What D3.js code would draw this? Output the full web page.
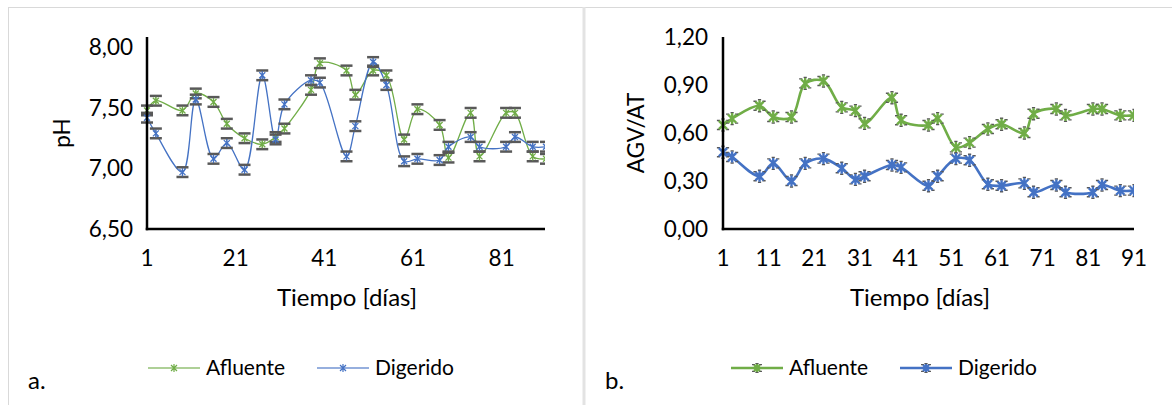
<!DOCTYPE html>
<html>
<head>
<meta charset="utf-8">
<script src="https://cdn.jsdelivr.net/npm/d3@7"></script>
<style>
  body { margin: 0; background: #fff; }
  svg text { font-family: Lato, "Noto Sans", sans-serif; fill: #000; }
</style>
</head>
<body>
<svg id="chart" width="1172" height="405"></svg>
<script>
// Days sampled (shared by both panels)
const days = [1, 3, 9, 12, 16, 19, 23, 27, 30, 32, 38, 40, 46, 48, 52, 55, 59, 62, 67, 69, 74, 76, 82, 84, 88, 91];

// panel a: pH
const phAfluente = [7.48, 7.56, 7.48, 7.62, 7.55, 7.37, 7.25, 7.20, 7.26, 7.33, 7.65, 7.87, 7.81, 7.61, 7.81, 7.77, 7.24, 7.49, 7.36, 7.09, 7.46, 7.10, 7.46, 7.46, 7.10, 7.08];
const phDigerido = [7.42, 7.29, 6.97, 7.57, 7.08, 7.21, 6.99, 7.77, 7.24, 7.53, 7.73, 7.71, 7.10, 7.35, 7.88, 7.69, 7.06, 7.08, 7.07, 7.18, 7.26, 7.18, 7.18, 7.26, 7.18, 7.18];
const phErrAfluente = [0.04, 0.04, 0.04, 0.04, 0.04, 0.04, 0.04, 0.04, 0.04, 0.04, 0.04, 0.04, 0.04, 0.04, 0.04, 0.04, 0.04, 0.04, 0.04, 0.04, 0.04, 0.04, 0.04, 0.04, 0.04, 0.04];
const phErrDigerido = [0.04, 0.04, 0.04, 0.04, 0.04, 0.04, 0.04, 0.04, 0.04, 0.04, 0.04, 0.04, 0.04, 0.04, 0.04, 0.04, 0.04, 0.04, 0.04, 0.04, 0.04, 0.04, 0.04, 0.04, 0.04, 0.04];
const phTicks = [6.5, 7.0, 7.5, 8.0];
const phDayTicks = [1, 21, 41, 61, 81];

// panel b: AGV/AT
const agvAfluente = [0.65, 0.69, 0.77, 0.70, 0.70, 0.91, 0.925, 0.76, 0.74, 0.66, 0.82, 0.68, 0.65, 0.69, 0.51, 0.54, 0.625, 0.655, 0.60, 0.72, 0.75, 0.71, 0.75, 0.75, 0.71, 0.71];
const agvDigerido = [0.48, 0.45, 0.33, 0.41, 0.30, 0.41, 0.44, 0.38, 0.31, 0.33, 0.40, 0.385, 0.27, 0.33, 0.44, 0.43, 0.28, 0.27, 0.285, 0.23, 0.275, 0.23, 0.23, 0.275, 0.24, 0.24];
const agvTicks = [0, 0.3, 0.6, 0.9, 1.2];
const agvDayTicks = [1, 11, 21, 31, 41, 51, 61, 71, 81, 91];

const seriesNames = ["Afluente", "Digerido"];
const colors = ["#70ad47", "#4472c4"];
const comma = d3.format(".2f");
const fmt = v => comma(v).replace(".", ",");

const svg = d3.select("#chart");

// frame
svg.append("line").attr("x1", 8).attr("x2", 1172).attr("y1", 7.5).attr("y2", 7.5).attr("stroke", "#d9d9d9");
svg.append("line").attr("x1", 8.5).attr("x2", 8.5).attr("y1", 7).attr("y2", 405).attr("stroke", "#d9d9d9");
svg.append("line").attr("x1", 584).attr("x2", 584).attr("y1", 7).attr("y2", 405).attr("stroke", "#e3e3e3").attr("stroke-width", 3);

function asterisk(r) {
  const d = r * 0.75;
  return `M${-d},${-d}L${d},${d}M${-d},${d}L${d},${-d}M0,${-r}L0,${r}`;
}

// gray tips behind a colored star (panel b marker)
function tips(r) {
  const d = r * 0.75;
  return [[-d, -d], [d, d], [-d, d], [d, -d], [0, -r], [0, r]]
    .map(p => `M${p[0] - 1.6},${p[1]}L${p[0] + 1.6},${p[1]}`).join("");
}

function drawPanel(opt) {
  const g = svg.append("g");
  const x = d3.scaleLinear().domain([1, 91]).range([opt.x0, opt.x91]);
  const y = d3.scaleLinear().domain(opt.yDomain).range([opt.yBottom, opt.yTop]);

  const clipId = "clip" + opt.label;
  svg.append("clipPath").attr("id", clipId).append("rect")
    .attr("x", opt.x0 - 20).attr("y", 0).attr("width", opt.clipRight - opt.x0 + 20).attr("height", 300);

  // y tick labels
  g.selectAll(".ytick").data(opt.yTicks).enter().append("text")
    .attr("x", opt.yLabelX).attr("y", d => y(d))
    .attr("dy", "0.35em").attr("text-anchor", "end")
    .attr("font-size", 22.5).text(fmt);

  // x tick labels
  g.selectAll(".xtick").data(opt.xTicks).enter().append("text")
    .attr("x", d => x(d)).attr("y", 258)
    .attr("dy", "0.35em").attr("text-anchor", "middle")
    .attr("font-size", 22.5).text(d => d);

  g.append("text").attr("x", opt.titleX).attr("y", 298).attr("dy", "0.35em")
    .attr("text-anchor", "middle").attr("font-size", 24).text("Tiempo [días]");

  g.append("text").attr("transform", `translate(${opt.yTitleX},133) rotate(-90)`)
    .attr("dy", "0.35em").attr("text-anchor", "middle").attr("font-size", 22.5).text(opt.yTitle);

  const plot = g.append("g").attr("clip-path", `url(#${clipId})`);
  const line = d3.line().x((d, i) => x(days[i])).y(d => y(d)).curve(d3.curveCatmullRom.alpha(0.5));

  opt.series.forEach((vals, s) => {
    plot.append("path").datum(vals)
      .attr("fill", "none").attr("stroke", colors[s]).attr("stroke-width", opt.lineWidth)
      .attr("d", line);
  });

  opt.series.forEach((vals, s) => {
    const pts = plot.append("g").selectAll("g").data(vals).enter().append("g")
      .attr("transform", (d, i) => `translate(${x(days[i])},${y(d)})`);
    if (opt.errors) {
      const err = opt.errors[s];
      pts.append("line").attr("y1", (d, i) => y(d + err[i]) - y(d)).attr("y2", (d, i) => y(d - err[i]) - y(d))
        .attr("stroke", "#7f7f7f").attr("stroke-width", 1);
      [1, -1].forEach(sign => {
        pts.append("line").attr("x1", -6).attr("x2", 6)
          .attr("y1", (d, i) => y(d + sign * err[i]) - y(d)).attr("y2", (d, i) => y(d + sign * err[i]) - y(d))
          .attr("stroke", "#595959").attr("stroke-width", 2.5);
      });
      pts.append("path").attr("d", asterisk(4)).attr("fill", "none")
        .attr("stroke", colors[s]).attr("stroke-width", 1.3);
    } else {
      pts.append("path").attr("d", tips(6)).attr("fill", "none")
        .attr("stroke", "#595959").attr("stroke-width", 1.4);
      pts.append("path").attr("d", asterisk(5.5)).attr("fill", "none")
        .attr("stroke", colors[s]).attr("stroke-width", 2.4);
    }
  });

  // axes lines
  g.append("line").attr("x1", opt.x0).attr("x2", opt.x0).attr("y1", opt.axisTop).attr("y2", opt.yBottom + 1.25)
    .attr("stroke", "#000").attr("stroke-width", 2.5);
  g.append("line").attr("x1", opt.x0 - 1.25).attr("x2", opt.clipRight).attr("y1", opt.yBottom).attr("y2", opt.yBottom)
    .attr("stroke", "#000").attr("stroke-width", 2.5);

  // legend
  opt.legend.forEach((lx, s) => {
    const lg = g.append("g").attr("transform", `translate(${lx},368)`);
    lg.append("line").attr("x1", 0).attr("x2", 52).attr("stroke", colors[s])
      .attr("stroke-width", opt.errors ? 1.5 : 2.6).attr("opacity", opt.errors ? 0.75 : 1);
    if (opt.errors) {
      lg.append("path").attr("transform", "translate(26,0)").attr("d", asterisk(4))
        .attr("fill", "none").attr("stroke", colors[s]).attr("stroke-width", 1.2);
    } else {
      lg.append("path").attr("transform", "translate(26,0)").attr("d", tips(4.5))
        .attr("fill", "none").attr("stroke", "#595959").attr("stroke-width", 1.2);
      lg.append("path").attr("transform", "translate(26,0)").attr("d", asterisk(4))
        .attr("fill", "none").attr("stroke", colors[s]).attr("stroke-width", 2.2);
    }
    lg.append("text").attr("x", 58).attr("dy", "0.35em").attr("font-size", 21).text(seriesNames[s]);
  });

  g.append("text").attr("x", opt.tagX).attr("y", 381).attr("dy", "0.35em")
    .attr("font-size", 24).text(opt.label + ".");
}

drawPanel({
  label: "a", x0: 147, x91: 546, clipRight: 545,
  yDomain: [6.5, 8.0], yBottom: 229, yTop: 47.5, axisTop: 37,
  yTicks: phTicks, xTicks: phDayTicks, yLabelX: 133, yTitleX: 62, yTitle: "pH", titleX: 347,
  series: [phAfluente, phDigerido], errors: [phErrAfluente, phErrDigerido], lineWidth: 1.3,
  legend: [148, 317], tagX: 28
});

drawPanel({
  label: "b", x0: 723, x91: 1134, clipRight: 1134,
  yDomain: [0, 1.2], yBottom: 229, yTop: 37, axisTop: 37,
  yTicks: agvTicks, xTicks: agvDayTicks, yLabelX: 708, yTitleX: 636, yTitle: "AGV/AT", titleX: 920,
  series: [agvAfluente, agvDigerido], errors: null, lineWidth: 2.6,
  legend: [731, 900], tagX: 605
});
</script>
</body>
</html>
